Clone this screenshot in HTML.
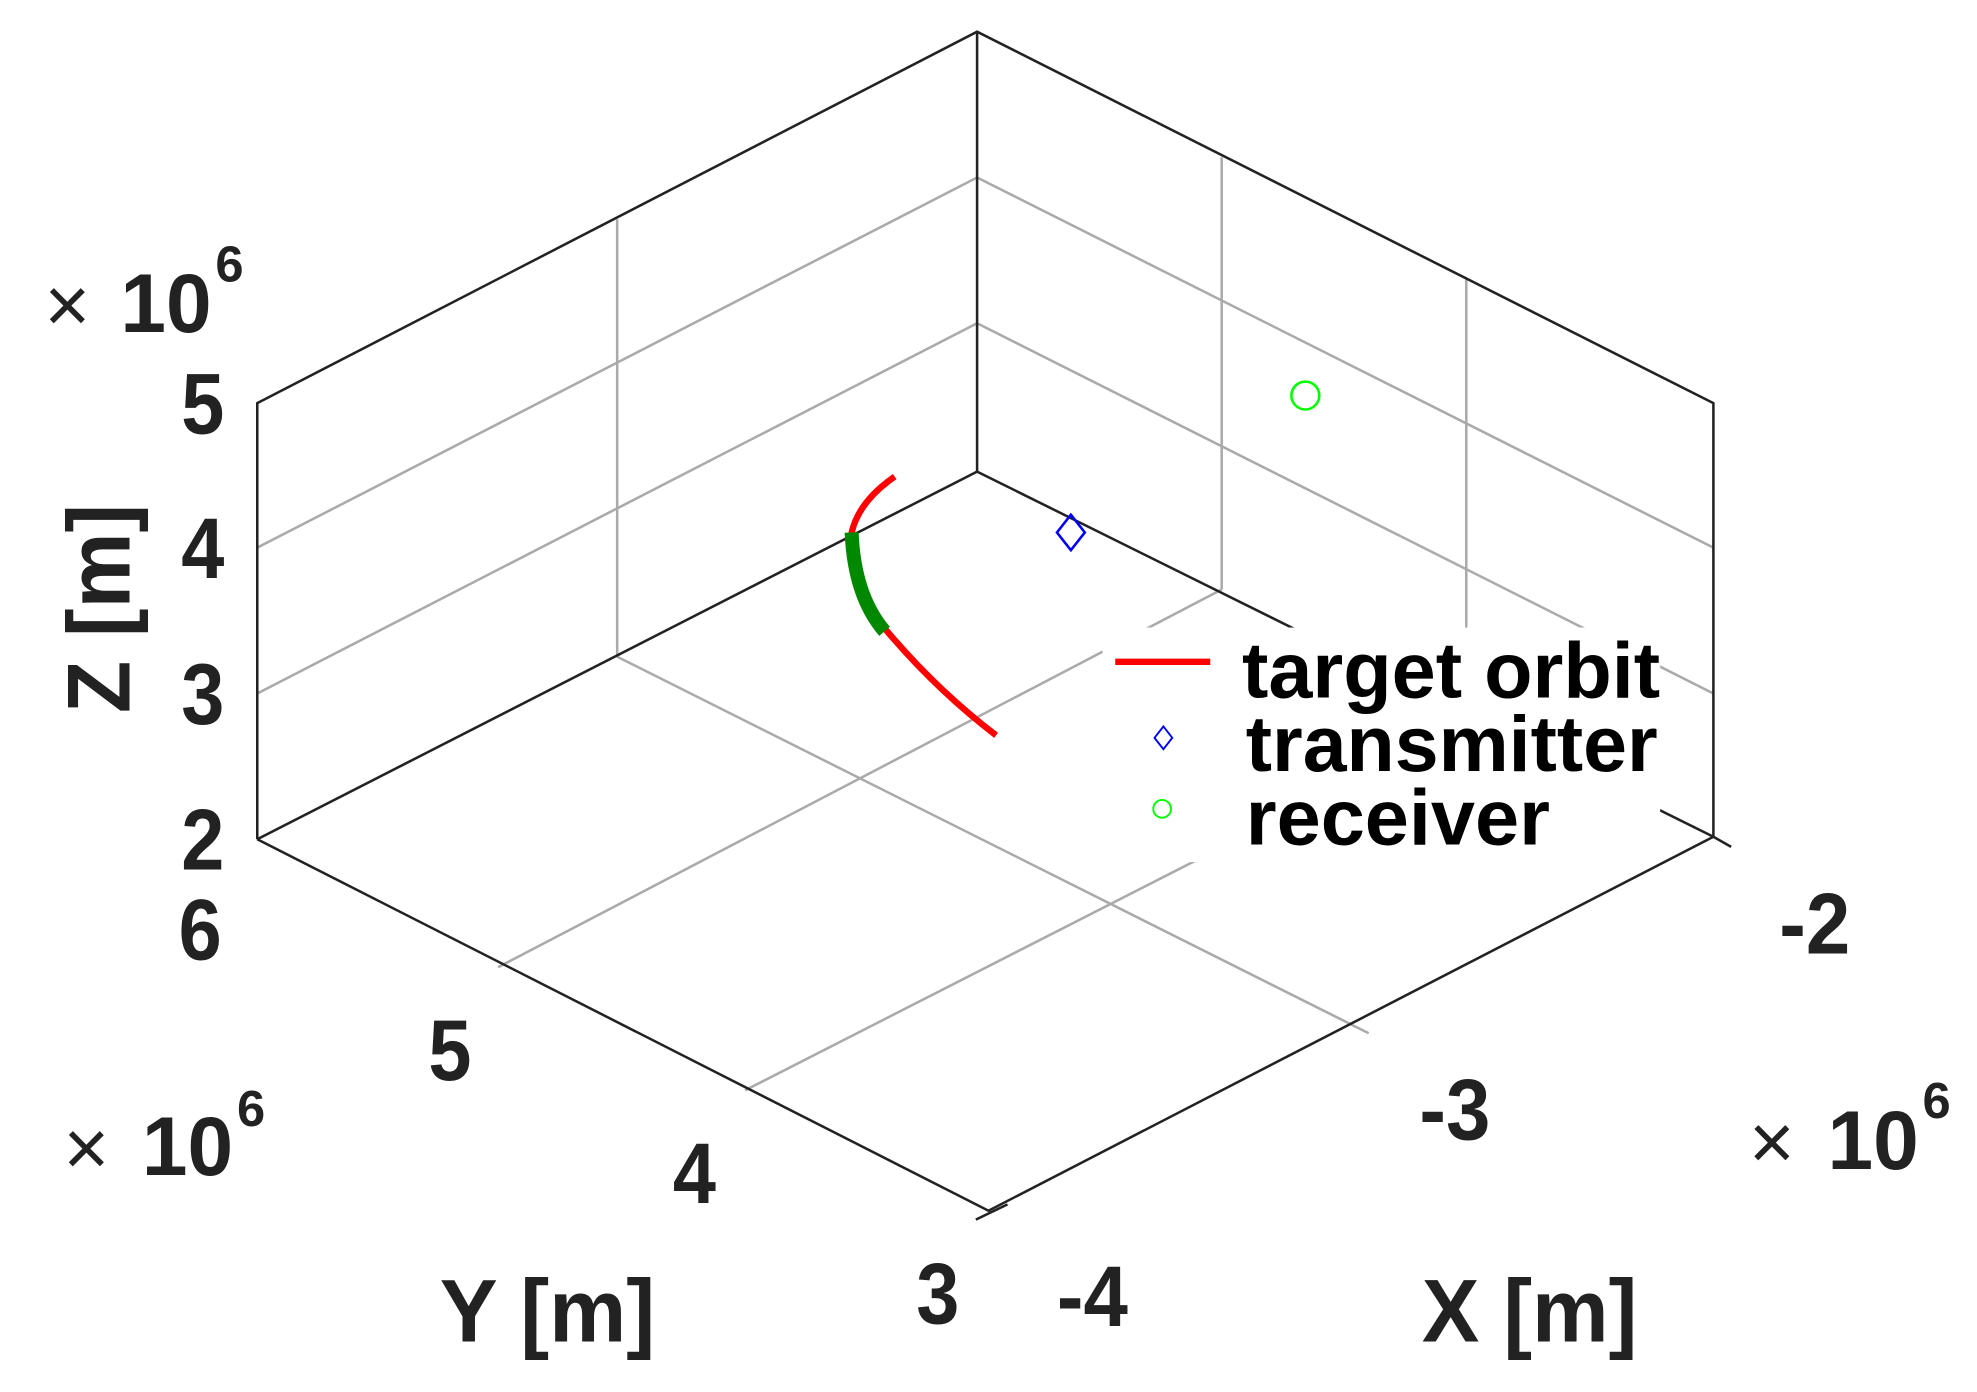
<!DOCTYPE html>
<html><head><meta charset="utf-8"><style>html,body{margin:0;padding:0;background:#fff}svg{display:block}</style></head>
<body>
<svg width="1977" height="1392" viewBox="0 0 1560 1098" preserveAspectRatio="none" xmlns="http://www.w3.org/2000/svg" font-family="Liberation Sans, sans-serif" font-weight="bold">
<g stroke="#aaa" stroke-width="2" fill="none">
<line x1="487" y1="173" x2="487" y2="518"/>
<line x1="203" y1="432" x2="771" y2="140"/>
<line x1="203" y1="547" x2="771" y2="255"/>
<line x1="964" y1="124" x2="964" y2="465"/>
<line x1="1157" y1="220" x2="1157" y2="513"/>
<line x1="771" y1="140" x2="1352" y2="432"/>
<line x1="771" y1="255" x2="1352" y2="547"/>
<line x1="487" y1="518" x2="1080" y2="815"/>
<line x1="964" y1="465" x2="393" y2="763"/>
<line x1="1157" y1="570" x2="588" y2="860"/>
</g>
<g stroke="#222" stroke-width="2" fill="none">
<polyline points="203,662 203,318 771,25 1352,318 1352,660"/>
<line x1="771" y1="25" x2="771" y2="372"/>
<line x1="771" y1="372" x2="203" y2="662"/>
<line x1="771" y1="372" x2="1352" y2="660"/>
<polyline points="203,662 780,955 1352,660"/>
<line x1="770" y1="962" x2="795" y2="950"/>
<line x1="1352" y1="660" x2="1366" y2="668"/>
</g>
<rect x="870" y="495" width="440" height="185" fill="#fff"/>
<path d="M706,376 Q678,395 672,420 Q674,470 700,498 Q740,545 786,580" stroke="#f00" stroke-width="5" fill="none"/>
<path d="M672,420 Q674,470 698,498" stroke="#080" stroke-width="11" fill="none"/>
<polygon points="845,406 856,420 845,434 834,420" fill="none" stroke="#00f" stroke-width="2"/>
<circle cx="1030" cy="312" r="11" fill="none" stroke="#0f0" stroke-width="2"/>
<line x1="880" y1="522" x2="955" y2="522" stroke="#f00" stroke-width="5"/>
<polygon points="918,573 925,582 918,591 911,582" fill="none" stroke="#00f" stroke-width="1.5"/>
<circle cx="917" cy="638" r="7" fill="none" stroke="#0f0" stroke-width="1.5"/>
<g font-size="62" fill="#000">
<text x="980" y="550" textLength="330" lengthAdjust="spacingAndGlyphs">target orbit</text>
<text x="983" y="608" textLength="325" lengthAdjust="spacingAndGlyphs">transmitter</text>
<text x="983" y="666" textLength="240" lengthAdjust="spacingAndGlyphs">receiver</text>
</g>
<g font-size="68" fill="#222" text-anchor="middle">
<text x="160" y="342" textLength="34" lengthAdjust="spacingAndGlyphs">5</text>
<text x="160" y="456" textLength="34" lengthAdjust="spacingAndGlyphs">4</text>
<text x="160" y="571" textLength="34" lengthAdjust="spacingAndGlyphs">3</text>
<text x="160" y="686" textLength="34" lengthAdjust="spacingAndGlyphs">2</text>
<text x="158" y="757" textLength="34" lengthAdjust="spacingAndGlyphs">6</text>
<text x="355" y="852" textLength="34" lengthAdjust="spacingAndGlyphs">5</text>
<text x="548" y="949" textLength="34" lengthAdjust="spacingAndGlyphs">4</text>
<text x="740" y="1044" textLength="34" lengthAdjust="spacingAndGlyphs">3</text>
<text x="862" y="1046" textLength="56" lengthAdjust="spacingAndGlyphs">-4</text>
<text x="1148" y="899" textLength="56" lengthAdjust="spacingAndGlyphs">-3</text>
<text x="1432" y="752" textLength="56" lengthAdjust="spacingAndGlyphs">-2</text>
</g>
<g font-size="62" fill="#222" font-weight="normal">
<text x="35" y="262">×</text><text x="95" y="262" font-weight="bold" font-size="66" textLength="72" lengthAdjust="spacingAndGlyphs">10</text><text x="170" y="222" font-size="40" font-weight="bold">6</text>
<text x="50" y="927">×</text><text x="112" y="927" font-weight="bold" font-size="66" textLength="72" lengthAdjust="spacingAndGlyphs">10</text><text x="187" y="888" font-size="40" font-weight="bold">6</text>
<text x="1380" y="922">×</text><text x="1442" y="922" font-weight="bold" font-size="66" textLength="72" lengthAdjust="spacingAndGlyphs">10</text><text x="1517" y="882" font-size="40" font-weight="bold">6</text>
</g>
<g font-size="70" fill="#222">
<text transform="translate(102,480) rotate(-90)" text-anchor="middle" textLength="165" lengthAdjust="spacingAndGlyphs">Z [m]</text>
<text x="432" y="1058" text-anchor="middle" textLength="170" lengthAdjust="spacingAndGlyphs">Y [m]</text>
<text x="1207" y="1058" text-anchor="middle" textLength="170" lengthAdjust="spacingAndGlyphs">X [m]</text>
</g>
</svg>
</body></html>
